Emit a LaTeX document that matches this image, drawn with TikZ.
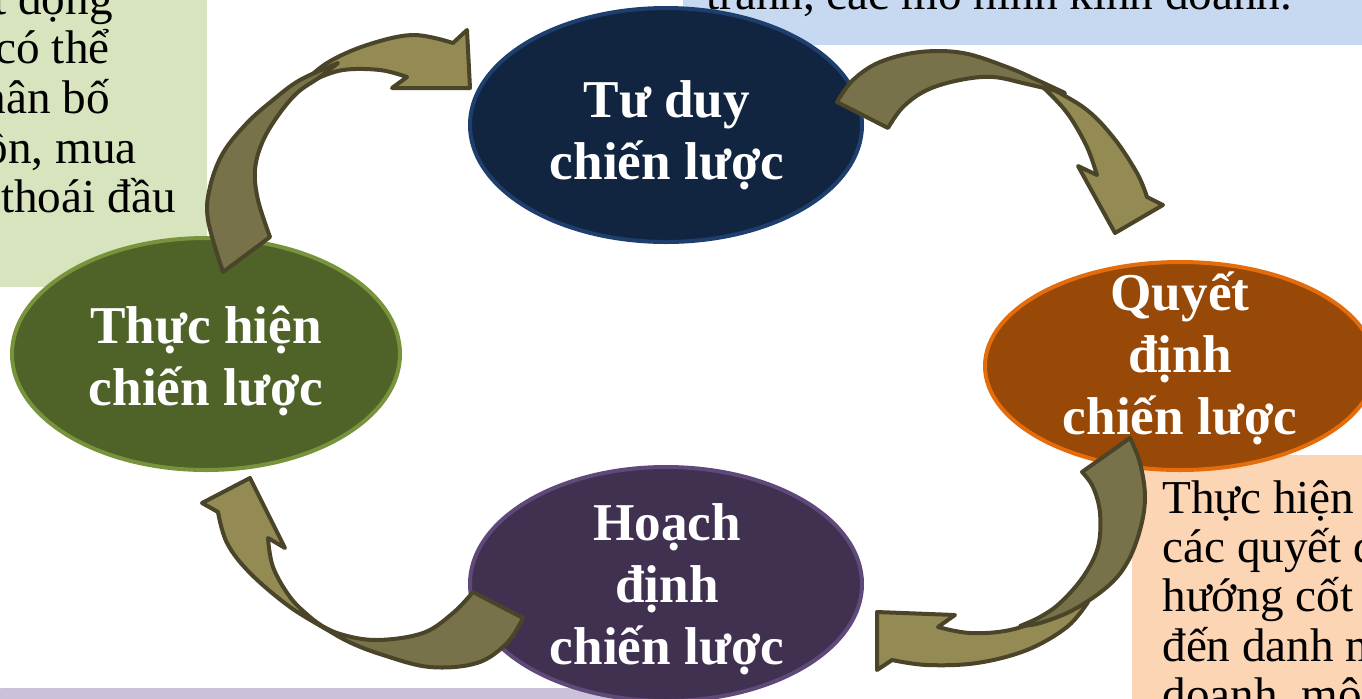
\documentclass[tikz,border=0pt]{standalone}
\usepackage{fontspec}
\setmainfont{Liberation Serif}
\usetikzlibrary{shapes.geometric}

\definecolor{boxgreen}{HTML}{D7E4BD}
\definecolor{boxblue}{HTML}{C6D9F1}
\definecolor{boxpeach}{HTML}{FCD5B5}
\definecolor{boxviolet}{HTML}{CCC1DA}
\definecolor{navyfill}{HTML}{112540}
\definecolor{navyline}{HTML}{1E3F6E}
\definecolor{rustfill}{HTML}{984807}
\definecolor{rustline}{HTML}{E46C0A}
\definecolor{olivefill}{HTML}{4F6228}
\definecolor{oliveline}{HTML}{77933C}
\definecolor{plumfill}{HTML}{403151}
\definecolor{plumline}{HTML}{5F497A}
\definecolor{arrowlight}{HTML}{948A54}
\definecolor{arrowdark}{HTML}{78724A}
\definecolor{arrowline}{HTML}{4A4429}

% centred and left-aligned stacks with a fixed line pitch
\newcommand\ctext[1]{\vtop{\baselineskip=31pt\lineskiplimit=-100pt\lineskip=0pt\halign{\hfil##\hfil\cr#1\crcr}}}
\newcommand\ltext[1]{\vtop{\baselineskip=24.7pt\lineskiplimit=-100pt\lineskip=0pt\halign{##\hfil\cr#1\crcr}}}

\begin{document}
\begin{tikzpicture}[x=0.5pt,y=-0.5pt,
  phase/.style={ellipse, inner sep=0pt, line width=2pt},
  lbl/.style={text=white, inner sep=0pt, anchor=base, font=\fontsize{26.6pt}{31pt}\selectfont\bfseries},
  note/.style={inner sep=0pt, font=\fontsize{23.6pt}{24.7pt}\selectfont},
  armback/.style={fill=arrowdark, draw=arrowline, line width=2pt, line join=round},
  armfront/.style={fill=arrowlight, draw=arrowline, line width=2pt, line join=round}]
\useasboundingbox (0,0) rectangle (1362,698);
\clip (0,0) rectangle (1362,698);

% side notes
\fill[boxgreen] (0,-10) rectangle (207,287);
\fill[boxblue] (683,-10) rectangle (1372,45);
\fill[boxpeach] (1132,455) rectangle (1372,708);
\fill[boxviolet, rounded corners=6pt] (-10,688) rectangle (620,720);

\node[note, anchor=base east] (g1) at (113,14) {hoạt động};
\node[note, anchor=base east] (g2) at (110,63) {có thể};
\node[note, anchor=base east] (g3) at (110,113) {phân bố};
\node[note, anchor=base east] (g4) at (137,163) {nguồn, mua};
\node[note, anchor=base east] (g5) at (176,212) {thoái đầu};

\node[note, anchor=base west] (b1) at (706,9) {tranh, các mô hình kinh doanh.};

\node[note, anchor=base west] (p1) at (1162,513)
  {\ltext{Thực hiện\cr các quyết định\cr hướng cốt lõi\cr đến danh mục\cr doanh, mô hình}};

% the four phases
\node[phase, fill=navyfill, draw=navyline, minimum width=196pt, minimum height=117pt] (tuduy) at (666,125) {};
\node[phase, fill=rustfill, draw=rustline, minimum width=195pt, minimum height=104pt] (quyetdinh) at (1180,366) {};
\node[phase, fill=olivefill, draw=oliveline, minimum width=194pt, minimum height=116pt] (thuchien) at (206,354) {};
\node[phase, fill=plumfill, draw=plumline, minimum width=196pt, minimum height=117pt] (hoachdinh) at (666,584) {};

\node[lbl] (tuduyT) at (667,117) {\ctext{Tư duy\cr chiến lược}};
\node[lbl] (quyetdinhT) at (1180,310) {\ctext{Quyết\cr định\cr chiến lược}};
\node[lbl] (thuchienT) at (206,343) {\ctext{Thực hiện\cr chiến lược}};
\node[lbl] (hoachdinhT) at (667,540) {\ctext{Hoạch\cr định\cr chiến lược}};

% curved arrow: implementation -> thinking (head part, then tail part over it)
\path[armfront] plot[smooth,tension=0.6] coordinates {(300,86) (327,63) (367,45) (413,35) (453,43)}
  -- (467,30) -- (470,88) -- (392,88) -- (407,77)
  -- plot[smooth,tension=0.6] coordinates {(407,77) (380,70) (343,70) (313,80) (300,86)} -- cycle;
\path[armback] plot[smooth,tension=0.6] coordinates {(223,272) (208,220) (210,187) (223,153) (247,123) (273,100) (300,80) (338,63)}
  -- plot[smooth,tension=0.6] coordinates {(338,63) (320,77) (297,93) (277,117) (262,143) (255,170) (258,200) (270,237)} -- cycle;

% curved arrow: thinking -> decision
\path[armfront] plot[smooth,tension=0.6] coordinates {(1035,80) (1083,107) (1113,137) (1137,173) (1147,197)}
  -- (1163,205) -- (1115,233) -- (1078,166) -- (1097,175)
  -- plot[smooth,tension=0.6] coordinates {(1097,175) (1087,147) (1070,117) (1053,97) (1035,80)} -- cycle;
\path[armback] plot[smooth,tension=0.6] coordinates {(837,102) (853,80) (880,62) (920,52) (963,53) (1007,67) (1037,80) (1065,93)}
  -- plot[smooth,tension=0.6] coordinates {(1065,93) (1027,84) (993,77) (960,80) (927,90) (903,107) (888,128)} -- cycle;

% curved arrow: decision -> planning
\path[armfront] plot[smooth,tension=0.6] coordinates {(1088,602) (1055,615) (1010,630) (970,633) (938,627)}
  -- (955,615) -- (877,612) -- (877,670) -- (892,660)
  -- plot[smooth,tension=0.6] coordinates {(892,660) (927,665) (977,663) (1027,650) (1067,627) (1088,602)} -- cycle;
\path[armback] plot[smooth,tension=0.6] coordinates {(1082,472) (1093,487) (1100,513) (1098,547) (1083,577) (1060,603) (1040,617) (1020,626)}
  -- plot[smooth,tension=0.6] coordinates {(1020,626) (1040,623) (1073,610) (1107,587) (1127,563) (1140,530) (1145,497) (1140,463) (1130,438)} -- cycle;

% curved arrow: planning -> implementation
\path[armfront] plot[smooth,tension=0.6] coordinates {(328,630) (290,607) (250,573) (227,543) (218,512)}
  -- (202,503) -- (250,478) -- (285,548) -- (268,538)
  -- plot[smooth,tension=0.6] coordinates {(268,538) (273,567) (290,597) (310,617) (328,630)} -- cycle;
\path[armback] plot[smooth,tension=0.6] coordinates {(473,592) (453,613) (423,633) (377,640) (340,634) (315,622)}
  -- plot[smooth,tension=0.6] coordinates {(315,622) (347,641) (383,655) (430,667) (477,663) (507,643) (523,618)} -- cycle;
\end{tikzpicture}
\end{document}
